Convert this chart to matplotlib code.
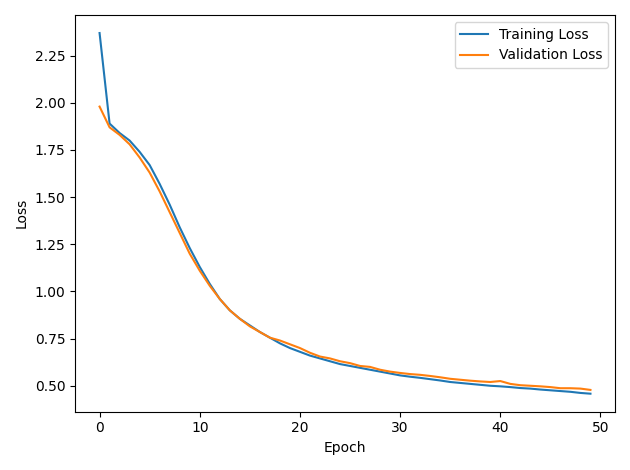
import matplotlib
matplotlib.use("Agg")
import matplotlib.pyplot as plt

epochs = list(range(50))
train_loss = [2.37,1.89,1.84,1.80,1.74,1.67,1.57,1.46,1.34,1.23,1.13,1.04,0.96,0.90,0.855,0.82,0.785,0.755,0.725,0.70,
              0.68,0.66,0.645,0.63,0.615,0.605,0.595,0.585,0.575,0.565,0.555,0.548,0.542,0.535,0.528,0.52,0.515,0.51,0.505,0.50,
              0.497,0.493,0.488,0.485,0.48,0.476,0.472,0.468,0.462,0.458]
val_loss = [1.98,1.87,1.83,1.78,1.71,1.63,1.53,1.42,1.31,1.20,1.11,1.03,0.96,0.90,0.855,0.815,0.785,0.755,0.74,0.72,
            0.70,0.675,0.655,0.645,0.63,0.62,0.605,0.60,0.585,0.575,0.568,0.562,0.558,0.552,0.545,0.537,0.532,0.527,0.523,0.52,
            0.525,0.51,0.503,0.50,0.497,0.493,0.487,0.487,0.485,0.478]

fig, ax = plt.subplots(figsize=(6.3, 4.7), dpi=100)
ax.plot(epochs, train_loss, label="Training Loss")
ax.plot(epochs, val_loss, label="Validation Loss")
ax.set_xlabel("Epoch")
ax.set_ylabel("Loss")
ax.legend()
fig.tight_layout()
fig.savefig("out.png")
